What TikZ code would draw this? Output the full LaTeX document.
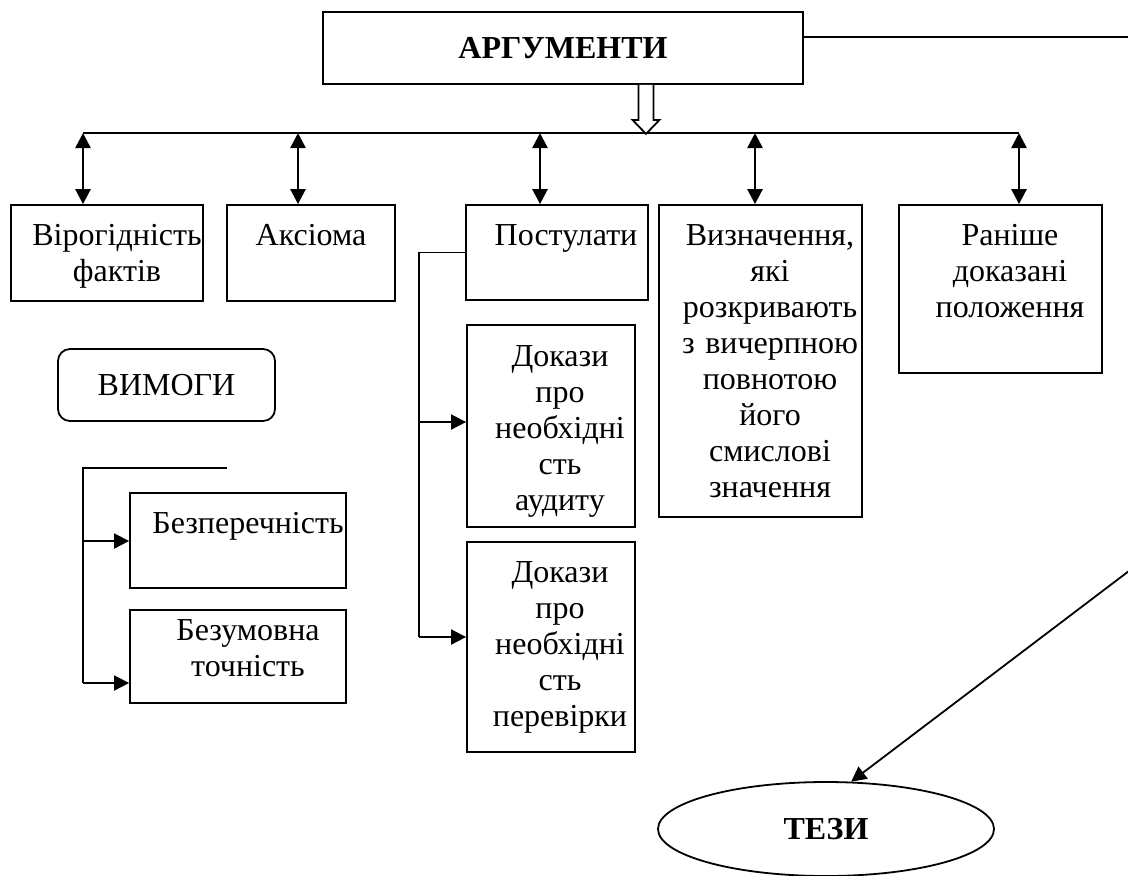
\documentclass[tikz,border=0pt]{standalone}
\usepackage{fontspec}
\setmainfont{Liberation Serif}
\usetikzlibrary{arrows.meta, positioning, shapes.geometric, fit}

\begin{document}
\begin{tikzpicture}[x=0.5pt, y=-0.5pt,
		every node/.style={font=\fontsize{16pt}{18pt}\selectfont},
		box/.style={draw, line width=0.9pt, inner sep=0pt},
		txt/.style={anchor=base, align=center, text width=105pt, inner sep=0pt},
		title/.style={font=\bfseries\fontsize{16pt}{18pt}\selectfont},
		link/.style={line width=0.9pt},
		twoway/.style={line width=1.3pt, <->},
		oneway/.style={line width=0.9pt, ->},
		>={Triangle[length=7.5pt, width=7.5pt]}]
		\useasboundingbox (0,0) rectangle (1128,875);
		\clip (0,0) rectangle (1128,875);

			\node[box, title, minimum width=240pt, minimum height=36pt] (args) at (563,48) {АРГУМЕНТИ};

			%top row:
			\node[box, fit={(11,205) (203,301)}] (fakty) {};
			\node[txt] (fakty-t) at (117,245) {Вірогідність\\фактів};
			\node[box, fit={(227,205) (395,301)}] (aksioma) {};
			\node[txt] (aksioma-t) at (311,245) {Аксіома};
			\node[box, fit={(466,205) (648,300)}] (postulaty) {};
			\node[txt] (postulaty-t) at (566,245) {Постулати};
			\node[box, fit={(659,205) (862,517)}] (vyznach) {};
			\node[txt] (vyznach-t) at (770,245) {Визначення,\\які\\розкривають\\з вичерпною\\повнотою\\його\\смислові\\значення};
			\node[box, fit={(899,205) (1102,373)}] (ranishe) {};
			\node[txt] (ranishe-t) at (1010,245) {Раніше\\доказані\\положення};

			%proofs:
			\node[box, fit={(467,325) (635,527)}] (audyt) {};
			\node[txt] (audyt-t) at (560,366) {Докази\\про\\необхідні\\сть\\аудиту};
			\node[box, fit={(467,542) (635,752)}] (perevirka) {};
			\node[txt] (perevirka-t) at (560,582) {Докази\\про\\необхідні\\сть\\перевірки};

			%requirements:
			\node[box, rounded corners=6pt, minimum width=108.5pt, minimum height=36pt] (vymogy) at (166.5,385) {ВИМОГИ};
			\node[box, fit={(130,493) (346,588)}] (bezper) {};
			\node[txt] (bezper-t) at (248,533) {Безперечність};
			\node[box, fit={(130,610) (346,703)}] (bezum) {};
			\node[txt] (bezum-t) at (248,640) {Безумовна\\точність};

			\node[draw, ellipse, title, line width=0.9pt, minimum width=168pt, minimum height=47pt, inner sep=0pt] (tezi) at (826,829) {ТЕЗИ};

			%bus:
			\coordinate (tip) at (646,133);
			\coordinate (b1) at (83,133);
			\coordinate (b2) at (298,133);
			\coordinate (b3) at (540,133);
			\coordinate (b4) at (755,133);
			\coordinate (b5) at (1019,133);
			\draw[link] (b1) -- (b5);
			\draw[link, fill=white, shift={(tip |- args.south)}] (-7.5,0) -- (-7.5,35) -- (-13.5,35) -- (0,49) -- (13.5,35) -- (7.5,35) -- (7.5,0);
			\foreach \b/\n in {b1/fakty, b2/aksioma, b3/postulaty, b4/vyznach, b5/ranishe}
			\draw[twoway] (\b) -- (\b |- \n.north);

			%postulates branch:
			\coordinate (p1) at (419,422);
			\coordinate (p2) at (419,637);
			\draw[link] (postulaty.west) -| (p2);
			\draw[oneway] (p1) -- (p1 -| audyt.west);
			\draw[oneway] (p2) -- (p2 -| perevirka.west);

			%requirements branch:
			\coordinate (v0) at (227,468);
			\coordinate (v1) at (83,541);
			\coordinate (v2) at (83,683);
			\draw[link] (v0) -| (v2);
			\draw[oneway] (v1) -- (v1 -| bezper.west);
			\draw[oneway] (v2) -- (v2 -| bezum.west);

			%to theses
			\coordinate (r1) at (1150,37);
			\coordinate (r2) at (1150,555);
			\draw[oneway] (r1 -| args.east) -- (r1) -- (r2) -- (tezi.62);

	\end{tikzpicture}
\end{document}
